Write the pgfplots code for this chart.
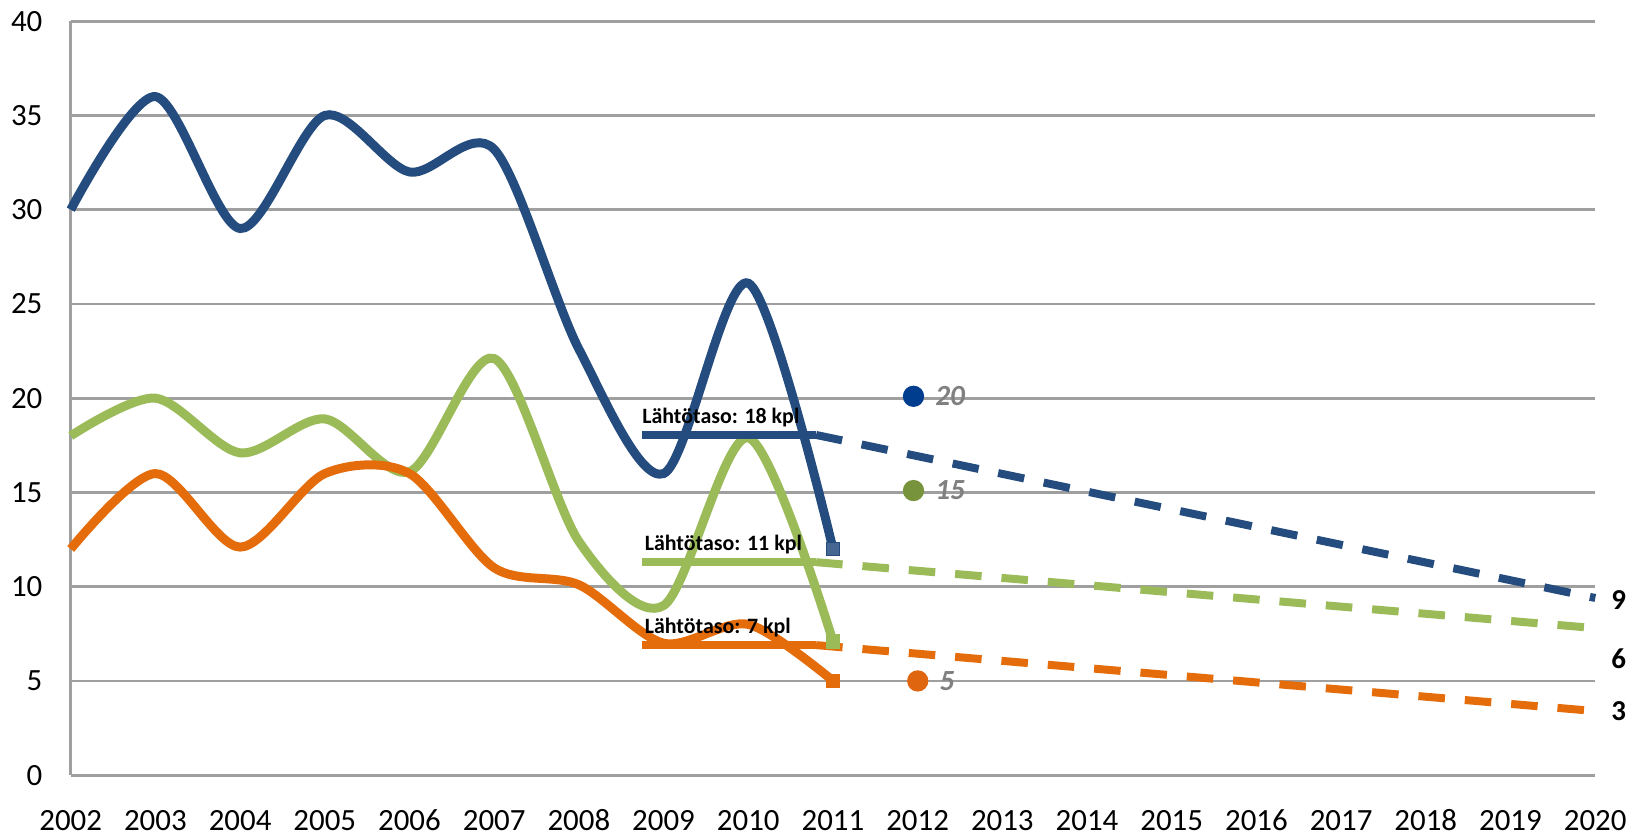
\documentclass[border=0pt]{standalone}
\usepackage{pgfplots}
\pgfplotsset{compat=1.18}
\usepackage{fontspec}
\setmainfont{Carlito}
\definecolor{cblue}{HTML}{254C7E}
\definecolor{cgreen}{HTML}{9BBB59}
\definecolor{corange}{HTML}{E46C0A}
\definecolor{dblue}{HTML}{003D8F}
\definecolor{dgreen}{HTML}{77933C}
\definecolor{dorange}{HTML}{E0650F}
\begin{document}
\begin{tikzpicture}
\begin{axis}[
  scale only axis,
  width=459pt, height=227pt,
  xmin=2002, xmax=2020, ymin=0, ymax=40,
  xtick={2002,...,2020}, ytick={0,5,...,40},
  x tick label style={/pgf/number format/1000 sep={}, anchor=north, text height=5.9pt, text depth=0pt, inner sep=1pt, yshift=-9.5pt},
  y tick label style={xshift=-5pt},
  /pgf/number format/assume math mode=true,
  tick label style={font=\fontsize{9.3}{11}\selectfont},
  axis x line*=bottom, axis y line*=left,
  axis line style={draw=gray!75, line width=0.8pt, -},
  major tick length=0pt,
  ymajorgrids, grid style={draw=gray!75, line width=0.8pt},
  clip=false,
]
% historical series
\addplot[cblue, line width=2.7pt, smooth, tension=0.5] coordinates {
 (2002,30) (2003,36) (2004,29) (2005,35) (2006,32) (2007,33.2) (2008,22.6) (2009,16) (2010,26.1) (2011,12)};
\addplot[cgreen, line width=2.7pt, smooth, tension=0.5] coordinates {
 (2002,18) (2003,20) (2004,17.1) (2005,18.9) (2006,16.1) (2007,22.1) (2008,12.4) (2009,9) (2010,17.9) (2011,7.1)};
\addplot[corange, line width=2.7pt, smooth, tension=0.5] coordinates {
 (2002,12) (2003,16) (2004,12.1) (2005,16) (2006,16) (2007,11) (2008,10.1) (2009,7) (2010,8) (2011,5)};
% end markers
\addplot[only marks, mark=square*, mark size=2pt, draw=cblue, fill=cblue!85!white] coordinates {(2011,12)};
\addplot[only marks, mark=square*, mark size=2pt, draw=cgreen, fill=cgreen] coordinates {(2011,7.1)};
\addplot[only marks, mark=square*, mark size=2pt, draw=corange, fill=corange] coordinates {(2011,5)};
% baselines
\addplot[cblue, line width=2.4pt] coordinates {(2008.74,18.05) (2010.8,18.05)};
\addplot[cgreen, line width=2.4pt] coordinates {(2008.74,11.3) (2010.8,11.3)};
\addplot[corange, line width=2.4pt] coordinates {(2008.74,6.9) (2010.8,6.9)};
% targets (dashed)
\addplot[cblue, line width=2.4pt, dash pattern=on 8pt off 6pt] coordinates {(2010.8,18.05) (2020,9.4)};
\addplot[cgreen, line width=2.4pt, dash pattern=on 8pt off 6pt] coordinates {(2010.8,11.3) (2020,7.8)};
\addplot[corange, line width=2.4pt, dash pattern=on 8pt off 6pt] coordinates {(2010.8,6.9) (2020,3.4)};
% 2012 targets
\addplot[only marks, mark=*, mark size=3pt, draw=dblue, fill=dblue] coordinates {(2011.95,20.1)};
\addplot[only marks, mark=*, mark size=3pt, draw=dgreen, fill=dgreen] coordinates {(2011.95,15.1)};
\addplot[only marks, mark=*, mark size=3pt, draw=dorange, fill=dorange] coordinates {(2012.0,5)};
\node[anchor=west, text=gray, font=\fontsize{8.8}{10}\selectfont\bfseries\itshape] at (axis cs:2012.07,20.1) {20};
\node[anchor=west, text=gray, font=\fontsize{8.8}{10}\selectfont\bfseries\itshape] at (axis cs:2012.07,15.1) {15};
\node[anchor=west, text=gray, font=\fontsize{8.8}{10}\selectfont\bfseries\itshape] at (axis cs:2012.12,5) {5};
% baseline labels
\node[anchor=south west, inner sep=0pt, font=\fontsize{6.6}{7}\selectfont\bfseries] at (axis cs:2008.74,18.45) {Lähtötaso: 18 kpl};
\node[anchor=south west, inner sep=0pt, font=\fontsize{6.6}{7}\selectfont\bfseries] at (axis cs:2008.77,11.7) {Lähtötaso: 11 kpl};
\node[anchor=south west, inner sep=0pt, font=\fontsize{6.6}{7}\selectfont\bfseries] at (axis cs:2008.77,7.3) {Lähtötaso: 7 kpl};
% right labels
\node[anchor=west, font=\fontsize{8.7}{10}\selectfont\bfseries] at (axis cs:2020.05,9.3) {9};
\node[anchor=west, font=\fontsize{8.7}{10}\selectfont\bfseries] at (axis cs:2020.05,6.2) {6};
\node[anchor=west, font=\fontsize{8.7}{10}\selectfont\bfseries] at (axis cs:2020.05,3.4) {3};
\end{axis}
\end{tikzpicture}
\end{document}
